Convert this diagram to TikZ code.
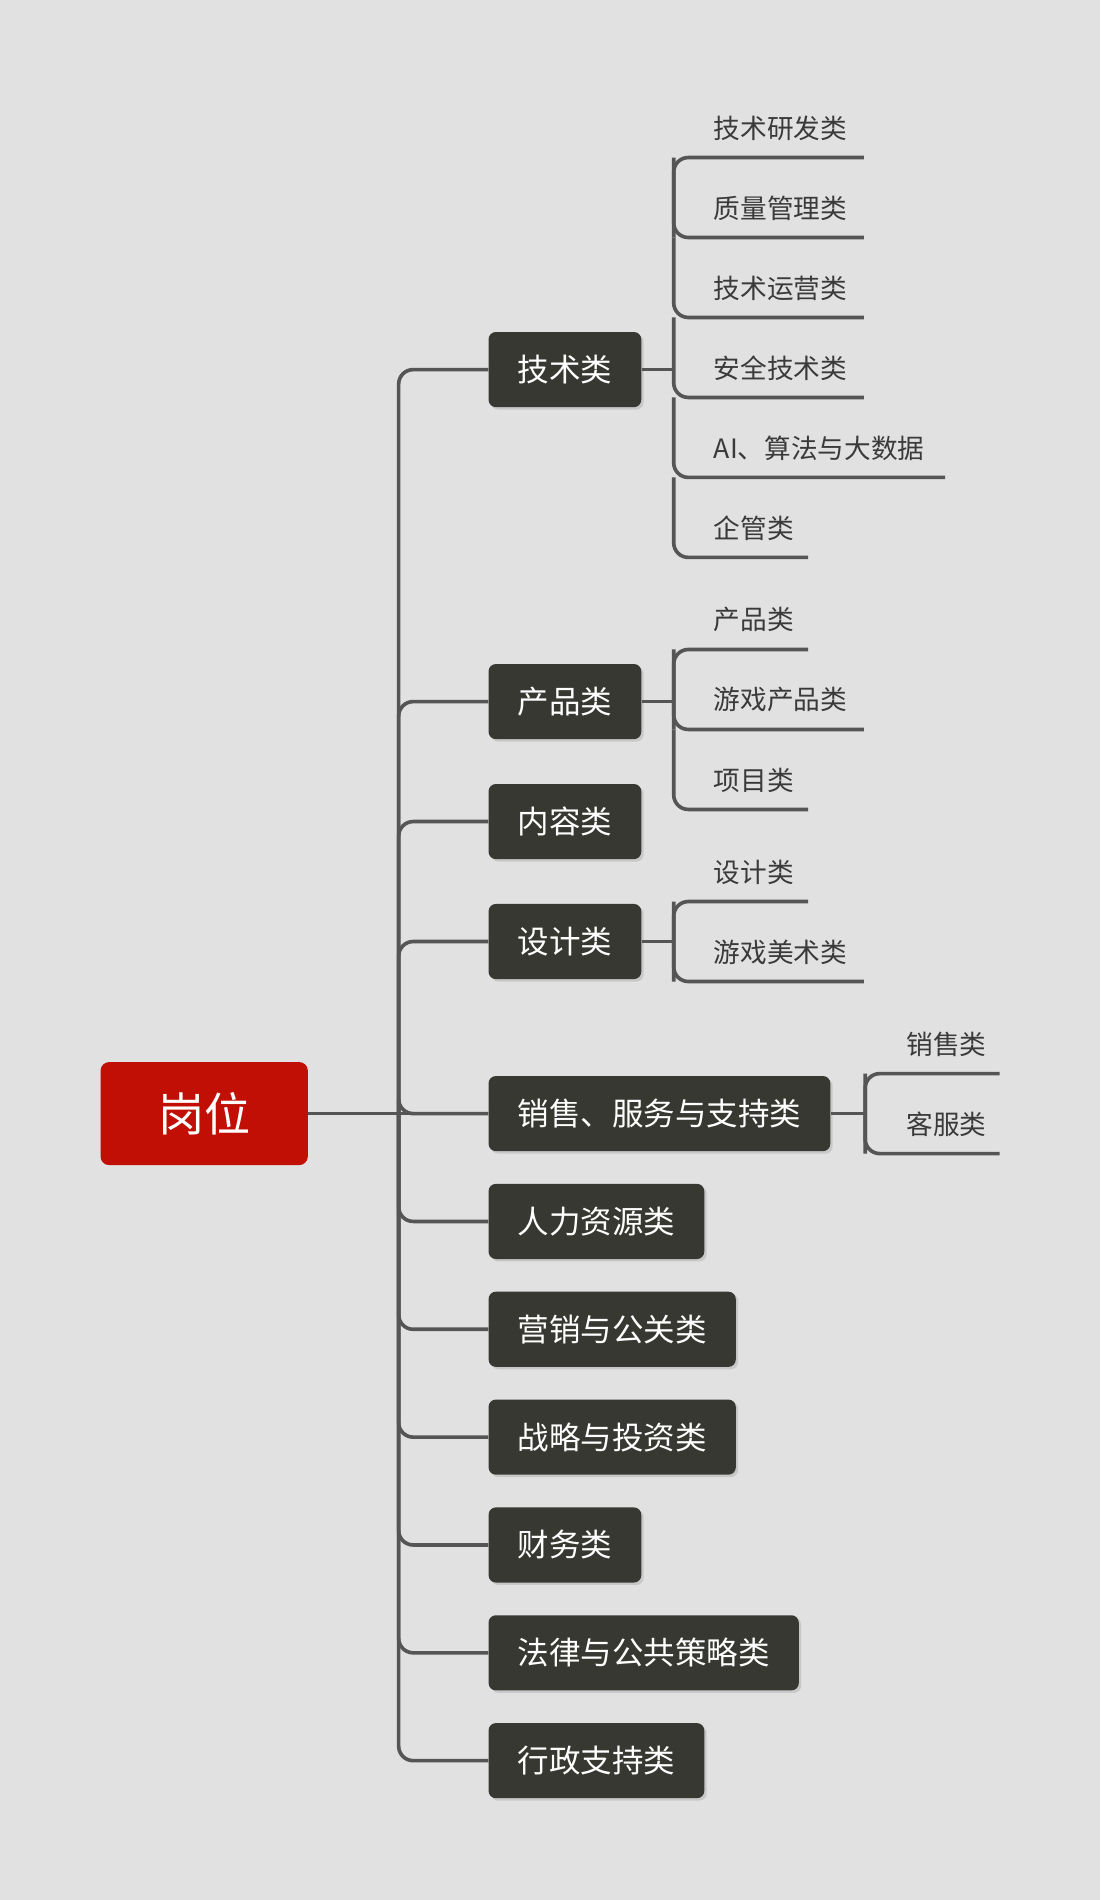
\documentclass[tikz,border=0pt]{standalone}
\usepackage{fontspec}
\setmainfont{Noto Sans CJK SC}
\usetikzlibrary{shadows}
\definecolor{bg}{HTML}{E1E1E1}
\definecolor{dark}{HTML}{383832}
\definecolor{rootred}{HTML}{C20F05}
\definecolor{ln}{HTML}{555555}
\definecolor{lf}{HTML}{3A3A3A}
\begin{document}
\begin{tikzpicture}[x=1pt,y=-1pt,
  cat/.style={fill=dark,text=white,rounded corners=6pt,minimum height=62pt,anchor=west,inner xsep=24pt,font=\fontsize{26}{30}\selectfont,drop shadow={shadow xshift=2pt,shadow yshift=-2pt,opacity=0.25}},
  leaf/.style={anchor=south west,text=lf,font=\fontsize{22}{26}\selectfont,inner sep=0pt,yshift=14pt},
  conn/.style={draw=ln,line width=3pt,rounded corners=12pt}]
\fill[bg] (0,0) rectangle (908,1568);
\useasboundingbox (0,0) rectangle (908,1568);
\node[fill=rootred,text=white,rounded corners=7pt,minimum width=171pt,minimum height=85pt,font=\fontsize{38}{44}\selectfont] (root) at (168.5,919) {岗位};
\foreach \n/\y/\t in {a/305/技术类,b/579/产品类,c/678/内容类,d/777/设计类,e/919/销售、服务与支持类,f/1008/人力资源类,g/1097/营销与公关类,h/1186/战略与投资类,i/1275/财务类,j/1364/法律与公共策略类,k/1453/行政支持类}{
  \node[cat] (\n) at (403,\y) {\t};
  \draw[conn] (329,919) |- (\n.west);
}
\draw[conn] (root.east) -- (e.west);
% leaves of a
\coordinate (va) at (556,305);
\draw[conn] (a.east) -- (va);
\node[leaf] (a1) at (589,130) {技术研发类};
\node[leaf] (a2) at (589,196) {质量管理类};
\node[leaf] (a3) at (589,262) {技术运营类};
\node[leaf] (a4) at (589,328) {安全技术类};
\node[leaf] (a5) at (589,394) {AI、算法与大数据};
\node[leaf] (a6) at (589,460) {企管类};
\draw[conn] (556,196) |- (713,130);
\draw[conn] (556,130) |- (713,196);
\draw[conn] (556,196) |- (713,262);
\draw[conn] (556,262) |- (713,328);
\draw[conn] (556,328) |- (780,394);
\draw[conn] (556,394) |- (667,460);
% b
\coordinate (vb) at (556,579);
\draw[conn] (b.east) -- (vb);
\node[leaf] (b1) at (589,536) {产品类};
\node[leaf] (b2) at (589,602) {游戏产品类};
\node[leaf] (b3) at (589,668) {项目类};
\draw[conn] (556,602) |- (667,536);
\draw[conn] (556,536) |- (713,602);
\draw[conn] (556,602) |- (667,668);
% d
\coordinate (vd) at (556,777);
\draw[conn] (d.east) -- (vd);
\node[leaf] (d1) at (589,744) {设计类};
\node[leaf] (d2) at (589,810) {游戏美术类};
\draw[conn] (556,810) |- (667,744);
\draw[conn] (556,744) |- (713,810);
% e
\coordinate (ve) at (714,919);
\draw[conn] (e.east) -- (ve);
\node[leaf] (e1) at (748,886) {销售类};
\node[leaf] (e2) at (748,952) {客服类};
\draw[conn] (714,952) |- (825,886);
\draw[conn] (714,886) |- (825,952);
\end{tikzpicture}
\end{document}
